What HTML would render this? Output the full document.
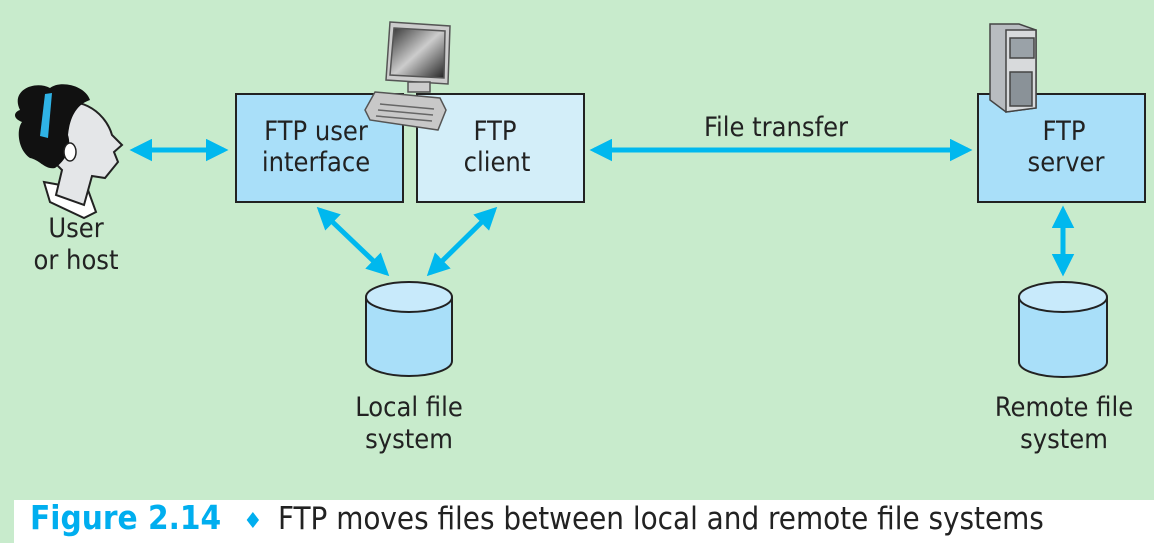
<!DOCTYPE html>
<html><head><style>
body{margin:0;width:1154px;height:543px;background:#fff;overflow:hidden;font-family:"DejaVu Sans Condensed","Liberation Sans",sans-serif}
</style></head><body>
<svg width="1154" height="543" xmlns="http://www.w3.org/2000/svg" font-family="'DejaVu Sans','Liberation Sans',sans-serif">
<defs>
<marker id="a" viewBox="0 0 10 10" refX="8" refY="5" markerWidth="4.5" markerHeight="4.5" orient="auto-start-reverse"><path d="M0,0 L10,5 L0,10 z" fill="#00b8ee"/></marker>
<linearGradient id="scr" x1="0" y1="0" x2="1" y2="1"><stop offset="0" stop-color="#333"/><stop offset=".5" stop-color="#ccc"/><stop offset="1" stop-color="#222"/></linearGradient>
</defs>
<rect x="0" y="0" width="1154" height="500" fill="#c8ebcc"/>
<rect x="0" y="500" width="14" height="43" fill="#c8ebcc"/>
<g stroke="#00b8ee" stroke-width="5" fill="none" marker-start="url(#a)" marker-end="url(#a)">
<line x1="134" y1="150" x2="224" y2="150"/>
<line x1="594" y1="150" x2="968" y2="150"/>
<line x1="320" y1="210" x2="386" y2="273"/>
<line x1="494" y1="210" x2="430" y2="273"/>
<line x1="1063" y1="210" x2="1063" y2="272"/>
</g>
<rect x="236" y="94" width="167" height="108" fill="#a9dff9" stroke="#222" stroke-width="2"/>
<rect x="417" y="94" width="167" height="108" fill="#d3eef9" stroke="#222" stroke-width="2"/>
<rect x="978" y="94" width="167" height="108" fill="#a9dff9" stroke="#222" stroke-width="2"/>
<!-- person -->
<g>
<path d="M44,182 L88,190 L96,212 L84,218 L50,202 z" fill="#fff" stroke="#222" stroke-width="2"/>
<path d="M50,108 C75,92 105,110 112,135 L122,145 L114,152 L118,162 L105,178 L92,176 L84,205 L56,195 L62,170 C40,150 40,120 50,108 z" fill="#e4e6e8" stroke="#222" stroke-width="2"/>
<path d="M20,110 C10,90 35,80 50,88 C60,80 85,85 90,100 C78,104 70,115 68,135 C72,148 66,160 55,168 C45,170 40,160 30,158 C18,150 16,130 22,122 C12,118 14,112 20,110 z" fill="#111"/>
<path d="M45,94 L52,93 L48,138 L40,136 z" fill="#2fb3e6"/>
<ellipse cx="70" cy="152" rx="6" ry="9" fill="#fff" stroke="#222" stroke-width="1.5"/>
</g>
<g font-size="27" fill="#222" text-anchor="middle" font-family="'DejaVu Sans Condensed','Liberation Sans',sans-serif">
<text x="316" y="140">FTP user</text><text x="316" y="171">interface</text>
<text x="495" y="140">FTP</text><text x="497" y="171">client</text>
<text x="1064" y="140">FTP</text><text x="1066" y="171">server</text>
<text x="776" y="136">File transfer</text>
<text x="76" y="237">User</text><text x="76" y="269">or host</text>
<text x="409" y="416">Local file</text><text x="409" y="448">system</text>
<text x="1064" y="416">Remote file</text><text x="1064" y="448">system</text>
</g>
<!-- cylinders -->
<g stroke="#222" stroke-width="2">
<path d="M366,297 L366,361 A43,15 0 0 0 452,361 L452,297" fill="#a9dff9"/>
<ellipse cx="409" cy="297" rx="43" ry="15" fill="#c8eafb"/>
<path d="M1019,297 L1019,362 A44,15 0 0 0 1107,362 L1107,297" fill="#a9dff9"/>
<ellipse cx="1063" cy="297" rx="44" ry="15" fill="#c8eafb"/>
</g>
<!-- computer -->
<g stroke="#555" stroke-width="1.5">
<path d="M390,22 L450,26 L448,84 L386,80 z" fill="#ccc"/>
<path d="M394,28 L445,31 L444,78 L390,75 z" fill="url(#scr)"/>
<rect x="408" y="82" width="22" height="10" fill="#ccc"/>
<path d="M375,92 L440,98 L446,110 L438,130 L370,120 L365,110 z" fill="#c8c8c8"/>
<g stroke="#666"><line x1="380" y1="104" x2="434" y2="109"/><line x1="378" y1="110" x2="433" y2="115"/><line x1="376" y1="116" x2="432" y2="121"/></g>
</g>
<!-- server tower -->
<g stroke="#444" stroke-width="1.5">
<path d="M990,24 L1019,24 L1036,30 L1036,108 L1006,112 L990,100 z" fill="#b8bcc0"/>
<path d="M1006,30 L1036,30 L1036,108 L1006,112 z" fill="#d8dadc"/>
<rect x="1010" y="38" width="24" height="20" fill="#9aa2a8"/>
<rect x="1010" y="72" width="22" height="34" fill="#8a9298"/>
</g>
<text x="30" y="529" font-size="33" font-weight="bold" fill="#00aeef" font-family="'DejaVu Sans Condensed','Liberation Sans',sans-serif">Figure 2.14</text>
<text x="243" y="528" font-size="22" fill="#00aeef">♦</text>
<text x="278" y="529" font-size="31" fill="#222" font-family="'DejaVu Sans Condensed','Liberation Sans',sans-serif">FTP moves files between local and remote file systems</text>
</svg>
</body></html>
